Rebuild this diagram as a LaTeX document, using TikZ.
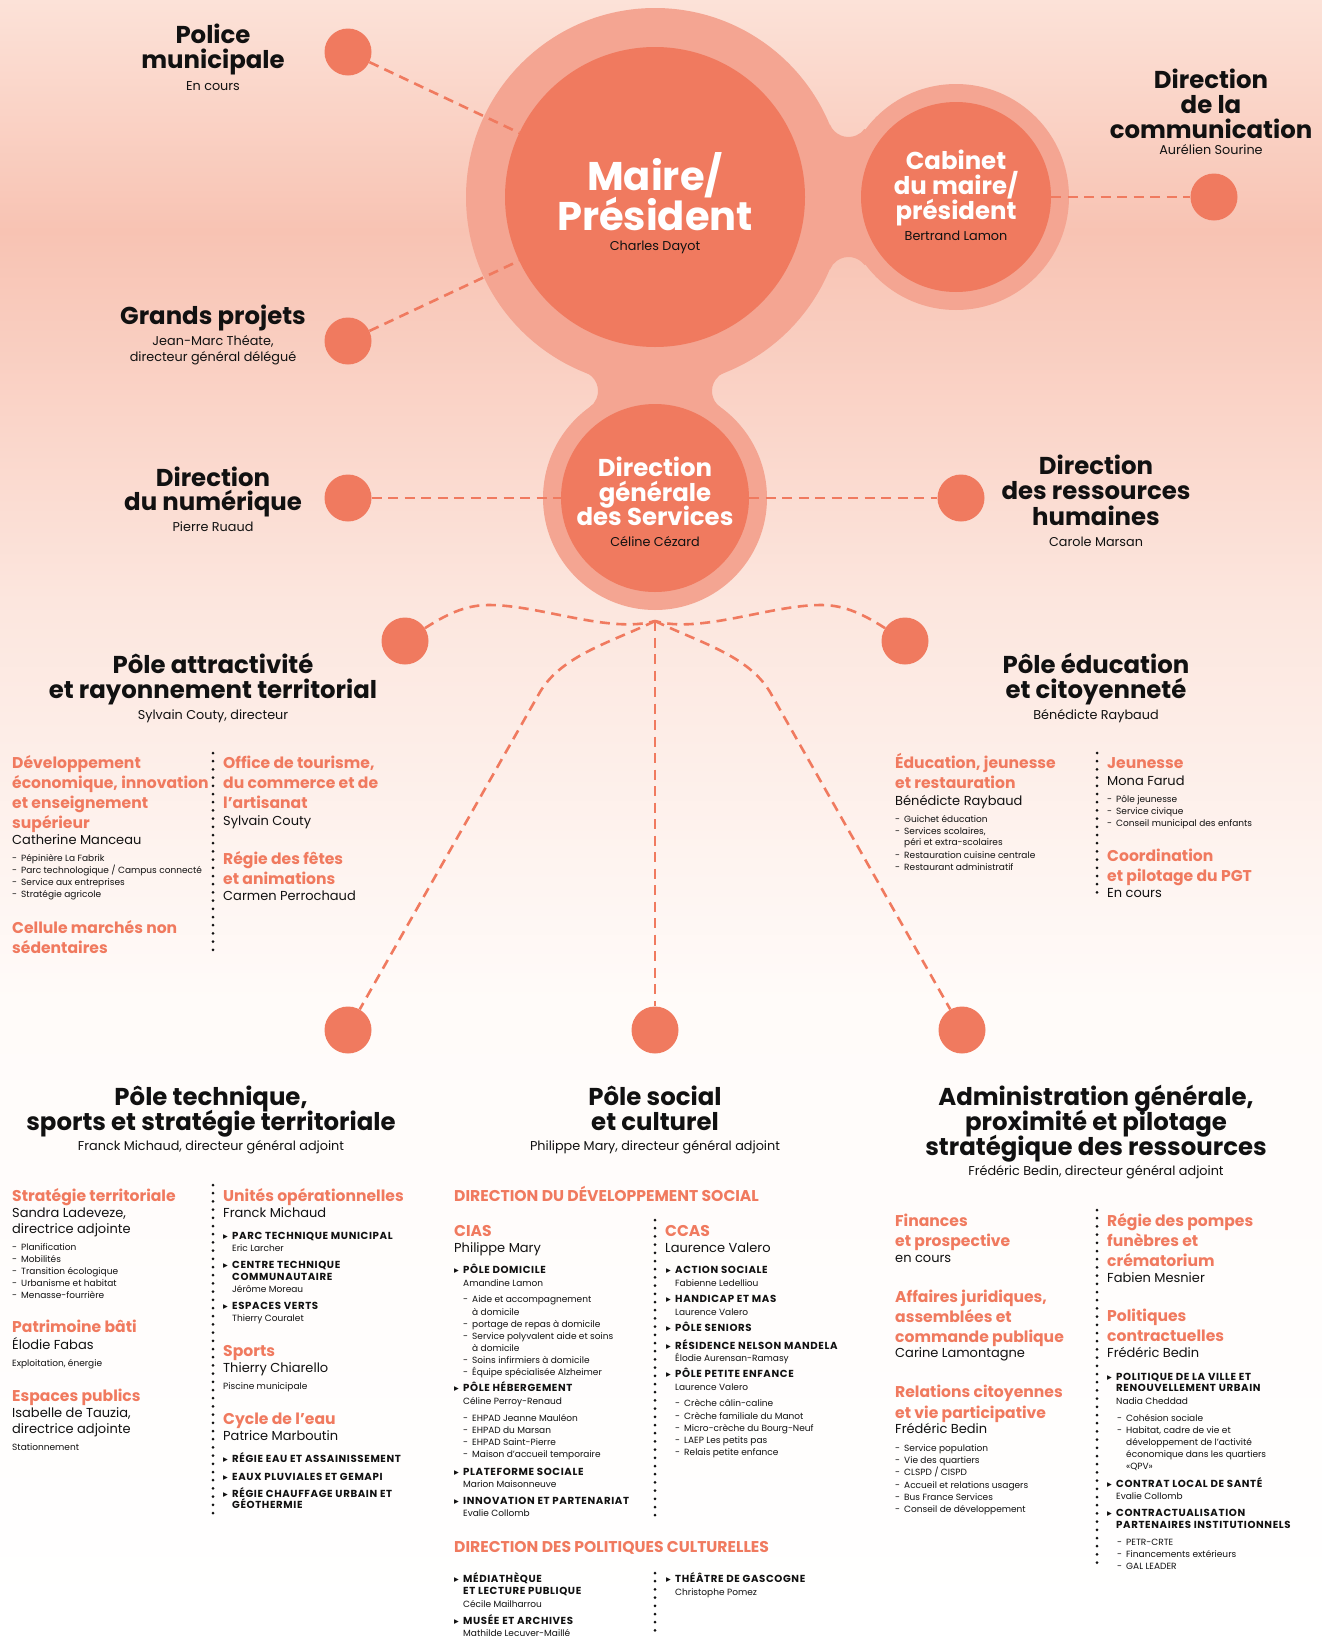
\documentclass[tikz,border=0pt]{standalone}
\usepackage{fontspec}
\setmainfont{Poppins}
\newfontfamily\capsfam[LetterSpace=6]{Poppins}
\newfontfamily\symfont{DejaVu Sans}
\definecolor{coral}{HTML}{F07A5F}
\definecolor{ring}{HTML}{F4A592}
\definecolor{ink}{HTML}{111111}
\definecolor{bgA}{HTML}{FCE2D8}
\definecolor{bgB}{HTML}{F8C3B3}
\definecolor{bgC}{HTML}{FCE6DE}
\definecolor{bgD}{HTML}{FFFBF9}
\newcommand\hdfont{\bfseries\fontsize{24.4}{24.4}\selectfont}
\newcommand\bigfont{\bfseries\fontsize{40}{40}\selectfont}
\newcommand\sbfont{\fontsize{12.8}{12.8}\selectfont}
\newcommand\ohfont{\bfseries\fontsize{15.6}{15.6}\selectfont}
\newcommand\nmfont{\fontsize{13}{13}\selectfont}
\newcommand\itfont{\fontsize{9}{9}\selectfont}
\newcommand\cpfont{\capsfam\bfseries\fontsize{10.2}{10.2}\selectfont}
\newcommand\dsh{\makebox[9pt][l]{-}}
\newcommand\arr{\makebox[9pt][l]{{\symfont\fontsize{9.5}{9.5}\selectfont ▸}}}
\newcount\tcnt
\newcommand\T[4]{\global\advance\tcnt by 1\relax\node[#1] (t\the\tcnt) at (#2,#3) {#4};}
\begin{document}
\begin{tikzpicture}[x=1pt,y=-1pt,
  conn/.style={draw=coral,line width=2.6pt,dash pattern=on 10pt off 6.5pt},
  dots/.style={draw=ink,line width=3pt,line cap=round,dash pattern=on 0pt off 8.2pt},
  dot/.style={circle,fill=coral,minimum size=47pt,inner sep=0pt},
  hd/.style={font=\hdfont,text=ink,anchor=base,inner sep=0pt},
  hdw/.style={font=\hdfont,text=white,anchor=base,inner sep=0pt},
  bigw/.style={font=\bigfont,text=white,anchor=base,inner sep=0pt},
  sb/.style={font=\sbfont,text=ink,anchor=base,inner sep=0pt},
  oh/.style={font=\ohfont,text=coral,anchor=base west,inner sep=0pt},
  sec/.style={font=\ohfont,text=coral,anchor=base west,inner sep=0pt},
  nm/.style={font=\nmfont,text=ink,anchor=base west,inner sep=0pt},
  it/.style={font=\itfont,text=ink,anchor=base west,inner sep=0pt},
  cp/.style={font=\cpfont,text=ink,anchor=base west,inner sep=0pt}]
\useasboundingbox (0,0) rectangle (1322,1636);
% background
\fill[top color=bgA,bottom color=bgB] (0,0) rectangle (1322,231);
\fill[top color=bgB,bottom color=bgC] (0,230) rectangle (1322,601);
\fill[top color=bgC,bottom color=bgD] (0,600) rectangle (1322,1001);
\fill[top color=bgD,bottom color=white] (0,1000) rectangle (1322,1636);
% outer light shapes
\fill[ring] (655,197) circle[radius=189];
\fill[ring] (956,197) circle[radius=113];
\fill[ring] (655,498) circle[radius=112];
\fill[ring] (830.0,124.6) arc[start angle=157.6,end angle=36.5,radius=20] -- (956,197) -- (864.6,265.1) arc[start angle=-36.5,end angle=-157.6,radius=20] -- (655,197) -- cycle;
\fill[ring] (585.4,372.4) arc[start angle=-68.3,end angle=54.2,radius=20] -- (655,498) -- (720.3,407.2) arc[start angle=125.8,end angle=248.3,radius=20] -- (655,197) -- cycle;
% main circles
\node[circle,fill=coral,minimum size=300pt,inner sep=0pt] (maire) at (655,197) {};
\node[circle,fill=coral,minimum size=190pt,inner sep=0pt] (cab) at (956,197) {};
\node[circle,fill=coral,minimum size=188pt,inner sep=0pt] (dgs) at (655,498) {};
% small circles
\node[dot] (pol) at (348,52) {};
\node[dot] (gp) at (348,341) {};
\node[dot] (com) at (1214,197) {};
\node[dot] (num) at (348,498) {};
\node[dot] (rh) at (961,498) {};
\node[dot] (attr) at (405,641) {};
\node[dot] (edu) at (905,641) {};
\node[dot] (tech) at (348,1030) {};
\node[dot] (soc) at (655,1030) {};
\node[dot] (adm) at (962,1030) {};
\coordinate (P) at (655,621);
% connectors
\draw[conn] (pol) -- (maire);
\draw[conn] (gp) -- (maire);
\draw[conn] (cab) -- (com);
\draw[conn] (num) -- (dgs);
\draw[conn] (dgs) -- (rh);
\draw[conn] (attr) .. controls (450,612) and (468,605) .. (489,605) .. controls (540,605) and (610,634) .. (P);
\draw[conn] (edu) .. controls (860,612) and (842,605) .. (821,605) .. controls (770,605) and (700,634) .. (P);
\draw[conn] (P) .. controls (612,642) and (562,655) .. (540,692) -- (tech);
\draw[conn] (P) .. controls (698,642) and (748,655) .. (770,692) -- (adm);
\draw[conn] (P) -- (soc);
% dotted separators
\draw[dots] (213,753) -- (213,957);
\draw[dots] (1097,753) -- (1097,900);
\draw[dots] (213,1185) -- (213,1513);
\draw[dots] (655,1220) -- (655,1518);
\draw[dots] (655,1573) -- (655,1640);
\draw[dots] (1097,1210) -- (1097,1570);
% top texts
\T{hd}{213}{43}{Police}
\T{hd}{213}{68}{municipale}
\T{sb}{213}{90}{En cours}
\T{hd}{213}{324}{Grands projets}
\T{sb}{213}{345}{Jean-Marc Théate,}
\T{sb}{213}{361}{directeur général délégué}
\T{hd}{1211}{88}{Direction}
\T{hd}{1211}{113}{de la}
\T{hd}{1211}{138}{communication}
\T{sb}{1211}{154}{Aurélien Sourine}
\T{bigw}{655}{190}{Maire/}
\T{bigw}{655}{230}{Président}
\T{sb}{655}{250}{Charles Dayot}
\T{hdw}{956}{169}{Cabinet}
\T{hdw}{956}{194}{du maire/}
\T{hdw}{956}{219}{président}
\T{sb}{956}{240}{Bertrand Lamon}
\T{hdw}{655}{476}{Direction}
\T{hdw}{655}{501}{générale}
\T{hdw}{655}{525}{des Services}
\T{sb}{655}{546}{Céline Cézard}
\T{hd}{213}{486}{Direction}
\T{hd}{213}{510}{du numérique}
\T{sb}{213}{531}{Pierre Ruaud}
\T{hd}{1096}{474}{Direction}
\T{hd}{1096}{499}{des ressources}
\T{hd}{1096}{525}{humaines}
\T{sb}{1096}{546}{Carole Marsan}
\T{hd}{213}{673}{Pôle attractivité}
\T{hd}{213}{698}{et rayonnement territorial}
\T{sb}{213}{719}{Sylvain Couty, directeur}
\T{hd}{1096}{673}{Pôle éducation}
\T{hd}{1096}{698}{et citoyenneté}
\T{sb}{1096}{719}{Bénédicte Raybaud}
\T{hd}{211}{1105}{Pôle technique,}
\T{hd}{211}{1130}{sports et stratégie territoriale}
\T{sb}{211}{1150}{Franck Michaud, directeur général adjoint}
\T{hd}{655}{1105}{Pôle social}
\T{hd}{655}{1130}{et culturel}
\T{sb}{655}{1150}{Philippe Mary, directeur général adjoint}
\T{hd}{1096}{1105}{Administration générale,}
\T{hd}{1096}{1130}{proximité et pilotage}
\T{hd}{1096}{1155}{stratégique des ressources}
\T{sb}{1096}{1175}{Frédéric Bedin, directeur général adjoint}
% attractivite
\T{oh}{12}{768}{Développement}
\T{oh}{12}{788}{économique, innovation}
\T{oh}{12}{808}{et enseignement}
\T{oh}{12}{828}{supérieur}
\T{nm}{12}{844}{Catherine Manceau}
\T{it}{12}{861}{\dsh Pépinière La Fabrik}
\T{it}{12}{873}{\dsh Parc technologique / Campus connecté}
\T{it}{12}{885}{\dsh Service aux entreprises}
\T{it}{12}{897}{\dsh Stratégie agricole}
\T{oh}{12}{933}{Cellule marchés non}
\T{oh}{12}{953}{sédentaires}
\T{oh}{223}{768}{Office de tourisme,}
\T{oh}{223}{788}{du commerce et de}
\T{oh}{223}{808}{l’artisanat}
\T{nm}{223}{825}{Sylvain Couty}
\T{oh}{223}{864}{Régie des fêtes}
\T{oh}{223}{884}{et animations}
\T{nm}{223}{900}{Carmen Perrochaud}
% education
\T{oh}{895}{768}{Éducation, jeunesse}
\T{oh}{895}{788}{et restauration}
\T{nm}{895}{805}{Bénédicte Raybaud}
\T{it}{895}{822}{\dsh Guichet éducation}
\T{it}{895}{834}{\dsh Services scolaires,}
\T{it}{904}{845}{péri et extra-scolaires}
\T{it}{895}{858}{\dsh Restauration cuisine centrale}
\T{it}{895}{870}{\dsh Restaurant administratif}
\T{oh}{1107}{768}{Jeunesse}
\T{nm}{1107}{785}{Mona Farud}
\T{it}{1107}{802}{\dsh Pôle jeunesse}
\T{it}{1107}{814}{\dsh Service civique}
\T{it}{1107}{826}{\dsh Conseil municipal des enfants}
\T{oh}{1107}{861}{Coordination}
\T{oh}{1107}{881}{et pilotage du PGT}
\T{nm}{1107}{897}{En cours}
% technique
\T{oh}{12}{1201}{Stratégie territoriale}
\T{nm}{12}{1217}{Sandra Ladeveze,}
\T{nm}{12}{1233}{directrice adjointe}
\T{it}{12}{1250}{\dsh Planification}
\T{it}{12}{1262}{\dsh Mobilités}
\T{it}{12}{1274}{\dsh Transition écologique}
\T{it}{12}{1286}{\dsh Urbanisme et habitat}
\T{it}{12}{1298}{\dsh Menasse-fourrière}
\T{oh}{12}{1332}{Patrimoine bâti}
\T{nm}{12}{1349}{Élodie Fabas}
\T{it}{12}{1366}{Exploitation, énergie}
\T{oh}{12}{1401}{Espaces publics}
\T{nm}{12}{1417}{Isabelle de Tauzia,}
\T{nm}{12}{1433}{directrice adjointe}
\T{it}{12}{1450}{Stationnement}
\T{oh}{223}{1201}{Unités opérationnelles}
\T{nm}{223}{1217}{Franck Michaud}
\T{cp}{223}{1239}{\arr PARC TECHNIQUE MUNICIPAL}
\T{it}{232}{1251}{Eric Larcher}
\T{cp}{223}{1268}{\arr CENTRE TECHNIQUE}
\T{cp}{232}{1280}{COMMUNAUTAIRE}
\T{it}{232}{1292}{Jérôme Moreau}
\T{cp}{223}{1309}{\arr ESPACES VERTS}
\T{it}{232}{1321}{Thierry Couralet}
\T{oh}{223}{1356}{Sports}
\T{nm}{223}{1372}{Thierry Chiarello}
\T{it}{223}{1389}{Piscine municipale}
\T{oh}{223}{1424}{Cycle de l’eau}
\T{nm}{223}{1440}{Patrice Marboutin}
\T{cp}{223}{1462}{\arr RÉGIE EAU ET ASSAINISSEMENT}
\T{cp}{223}{1480}{\arr EAUX PLUVIALES ET GEMAPI}
\T{cp}{223}{1497}{\arr RÉGIE CHAUFFAGE URBAIN ET}
\T{cp}{232}{1508}{GÉOTHERMIE}
% social
\T{sec}{454}{1201}{DIRECTION DU DÉVELOPPEMENT SOCIAL}
\T{oh}{454}{1236}{CIAS}
\T{nm}{454}{1252}{Philippe Mary}
\T{cp}{454}{1273}{\arr PÔLE DOMICILE}
\T{it}{463}{1286}{Amandine Lamon}
\T{it}{463}{1302}{\dsh Aide et accompagnement}
\T{it}{472}{1315}{à domicile}
\T{it}{463}{1327}{\dsh portage de repas à domicile}
\T{it}{463}{1339}{\dsh Service polyvalent aide et soins}
\T{it}{472}{1351}{à domicile}
\T{it}{463}{1363}{\dsh Soins infirmiers à domicile}
\T{it}{463}{1375}{\dsh Équipe spécialisée Alzheimer}
\T{cp}{454}{1391}{\arr PÔLE HÉBERGEMENT}
\T{it}{463}{1404}{Céline Perroy-Renaud}
\T{it}{463}{1421}{\dsh EHPAD Jeanne Mauléon}
\T{it}{463}{1433}{\dsh EHPAD du Marsan}
\T{it}{463}{1445}{\dsh EHPAD Saint-Pierre}
\T{it}{463}{1457}{\dsh Maison d’accueil temporaire}
\T{cp}{454}{1475}{\arr PLATEFORME SOCIALE}
\T{it}{463}{1487}{Marion Maisonneuve}
\T{cp}{454}{1504}{\arr INNOVATION ET PARTENARIAT}
\T{it}{463}{1516}{Evalie Collomb}
\T{oh}{665}{1236}{CCAS}
\T{nm}{665}{1252}{Laurence Valero}
\T{cp}{666}{1273}{\arr ACTION SOCIALE}
\T{it}{675}{1286}{Fabienne Ledelliou}
\T{cp}{666}{1302}{\arr HANDICAP ET MAS}
\T{it}{675}{1315}{Laurence Valero}
\T{cp}{666}{1331}{\arr PÔLE SENIORS}
\T{cp}{666}{1349}{\arr RÉSIDENCE NELSON MANDELA}
\T{it}{675}{1361}{Élodie Aurensan-Ramasy}
\T{cp}{666}{1377}{\arr PÔLE PETITE ENFANCE}
\T{it}{675}{1390}{Laurence Valero}
\T{it}{675}{1406}{\dsh Crèche câlin-caline}
\T{it}{675}{1419}{\dsh Crèche familiale du Manot}
\T{it}{675}{1431}{\dsh Micro-crèche du Bourg-Neuf}
\T{it}{675}{1443}{\dsh LAEP Les petits pas}
\T{it}{675}{1455}{\dsh Relais petite enfance}
\T{sec}{454}{1552}{DIRECTION DES POLITIQUES CULTURELLES}
\T{cp}{454}{1582}{\arr MÉDIATHÈQUE}
\T{cp}{463}{1594}{ET LECTURE PUBLIQUE}
\T{it}{463}{1607}{Cécile Mailharrou}
\T{cp}{454}{1624}{\arr MUSÉE ET ARCHIVES}
\T{it}{463}{1636}{Mathilde Lecuver-Maillé}
\T{cp}{666}{1582}{\arr THÉÂTRE DE GASCOGNE}
\T{it}{675}{1595}{Christophe Pomez}
% administration
\T{oh}{895}{1226}{Finances}
\T{oh}{895}{1246}{et prospective}
\T{nm}{895}{1262}{en cours}
\T{oh}{895}{1302}{Affaires juridiques,}
\T{oh}{895}{1322}{assemblées et}
\T{oh}{895}{1342}{commande publique}
\T{nm}{895}{1357}{Carine Lamontagne}
\T{oh}{895}{1397}{Relations citoyennes}
\T{oh}{895}{1418}{et vie participative}
\T{nm}{895}{1433}{Frédéric Bedin}
\T{it}{895}{1451}{\dsh Service population}
\T{it}{895}{1463}{\dsh Vie des quartiers}
\T{it}{895}{1475}{\dsh CLSPD / CISPD}
\T{it}{895}{1488}{\dsh Accueil et relations usagers}
\T{it}{895}{1500}{\dsh Bus France Services}
\T{it}{895}{1512}{\dsh Conseil de développement}
\T{oh}{1107}{1226}{Régie des pompes}
\T{oh}{1107}{1246}{funèbres et}
\T{oh}{1107}{1266}{crématorium}
\T{nm}{1107}{1282}{Fabien Mesnier}
\T{oh}{1107}{1321}{Politiques}
\T{oh}{1107}{1341}{contractuelles}
\T{nm}{1107}{1357}{Frédéric Bedin}
\T{cp}{1107}{1380}{\arr POLITIQUE DE LA VILLE ET}
\T{cp}{1116}{1391}{RENOUVELLEMENT URBAIN}
\T{it}{1116}{1404}{Nadia Cheddad}
\T{it}{1117}{1421}{\dsh Cohésion sociale}
\T{it}{1117}{1433}{\dsh Habitat, cadre de vie et}
\T{it}{1126}{1445}{développement de l’activité}
\T{it}{1126}{1457}{économique dans les quartiers}
\T{it}{1126}{1469}{«QPV»}
\T{cp}{1107}{1487}{\arr CONTRAT LOCAL DE SANTÉ}
\T{it}{1116}{1499}{Evalie Collomb}
\T{cp}{1107}{1516}{\arr CONTRACTUALISATION}
\T{cp}{1116}{1528}{PARTENAIRES INSTITUTIONNELS}
\T{it}{1117}{1545}{\dsh PETR-CRTE}
\T{it}{1117}{1557}{\dsh Financements extérieurs}
\T{it}{1117}{1569}{\dsh GAL LEADER}
\end{tikzpicture}
\end{document}
